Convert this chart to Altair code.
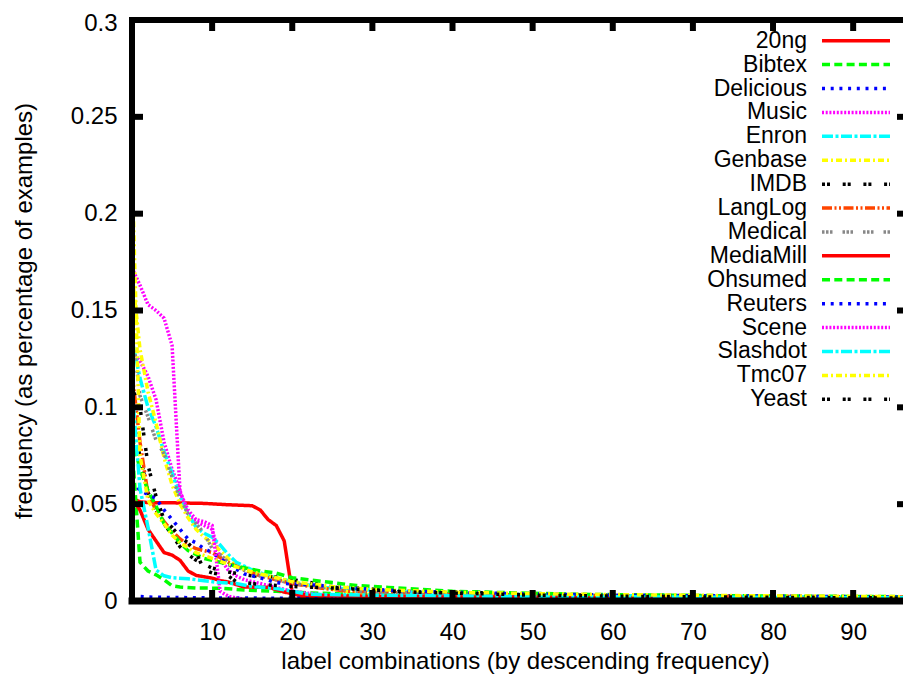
import altair as alt
import pandas as pd

# ---------------- data ----------------
names = ["20ng", "Bibtex", "Delicious", "Music", "Enron", "Genbase", "IMDB", "LangLog",
         "Medical", "MediaMill", "Ohsumed", "Reuters", "Scene", "Slashdot", "Tmc07", "Yeast"]

ng20_x = [0, 1, 2, 5, 9, 12, 15, 16, 17, 18, 19, 20, 21, 25, 35, 50, 70, 98]
ng20_y = [0.053, 0.0512, 0.0508, 0.0507, 0.0504, 0.0497, 0.0492, 0.047, 0.042, 0.039, 0.031,
          0.0042, 0.0025, 0.002, 0.0016, 0.0013, 0.0011, 0.0009]

bibtex_x = [0, 1, 2, 3, 4, 5, 6, 8, 11, 14, 18, 22, 30, 40, 55, 75, 98]
bibtex_y = [0.08, 0.02, 0.0155, 0.0135, 0.011, 0.0078, 0.0072, 0.0067, 0.0066, 0.0057, 0.005,
            0.0042, 0.0032, 0.0026, 0.0021, 0.0017, 0.0014]

delicious_x = [0, 3, 10, 25, 50, 75, 98]
delicious_y = [0.0025, 0.0019, 0.0016, 0.0013, 0.0011, 0.001, 0.0009]

music_x = [0, 1, 2, 3, 4, 5, 6, 7, 8, 9, 10, 11, 12, 13, 14, 16, 18, 20, 22, 24, 26]
music_y = [0.128, 0.124, 0.116, 0.104, 0.082, 0.068, 0.057, 0.044, 0.041, 0.039, 0.037, 0.022,
           0.016, 0.013, 0.011, 0.009, 0.007, 0.005, 0.004, 0.003, 0.002]

enron_x = [0, 1, 2, 3, 4, 5, 6, 7, 8, 9, 10, 11, 12, 13, 14, 15, 17, 19, 21, 24, 28, 35, 45, 60, 80, 98]
enron_y = [0.135, 0.115, 0.1, 0.09, 0.077, 0.066, 0.054, 0.045, 0.038, 0.035, 0.033, 0.029, 0.024,
           0.02, 0.018, 0.016, 0.013, 0.011, 0.009, 0.007, 0.006, 0.0045, 0.0035, 0.0028, 0.0022, 0.0018]

genbase_x = [0, 1, 2, 3, 4, 5, 6, 7, 8, 9, 10, 11, 12, 13, 14, 16, 18, 20, 22, 25, 28, 31]
genbase_y = [0.17, 0.13, 0.108, 0.092, 0.074, 0.06, 0.05, 0.043, 0.037, 0.033, 0.03, 0.026, 0.022,
             0.018, 0.016, 0.014, 0.012, 0.01, 0.008, 0.006, 0.004, 0.003]

imdb_x = [0, 1, 2, 3, 4, 5, 6, 7, 8, 10, 12, 15, 18, 20, 22, 24, 26, 29, 31, 33, 43, 44, 46, 50,
          60, 70, 80, 98]
imdb_y = [0.09, 0.075, 0.056, 0.047, 0.04, 0.034, 0.028, 0.024, 0.021, 0.017, 0.015, 0.013, 0.0124,
          0.011, 0.0098, 0.008, 0.0067, 0.0067, 0.0057, 0.0046, 0.0046, 0.004, 0.0036, 0.0032,
          0.003, 0.0027, 0.0024, 0.002]

langlog_x = [0, 1, 2, 3, 4, 5, 6, 7, 8, 10, 12, 14, 16, 18, 20, 23, 27, 35, 50, 70, 98]
langlog_y = [0.118, 0.082, 0.055, 0.047, 0.041, 0.036, 0.032, 0.029, 0.027, 0.025, 0.02, 0.016,
             0.013, 0.011, 0.009, 0.007, 0.005, 0.004, 0.003, 0.0025, 0.002]

medical_x = [0, 1, 2, 3, 4, 5, 6, 7, 8, 9, 10, 11, 12, 14, 16, 18, 20, 24, 28, 35, 45, 60, 80, 93]
medical_y = [0.14, 0.106, 0.095, 0.083, 0.076, 0.064, 0.053, 0.045, 0.04, 0.035, 0.027, 0.024,
             0.02, 0.016, 0.013, 0.011, 0.009, 0.007, 0.005, 0.004, 0.003, 0.002, 0.0015, 0.001]

mediamill_x = [0, 1, 2, 3, 4, 5, 6, 7, 8, 9, 10, 11, 12, 13, 14, 17, 18, 19, 20, 22, 25, 35, 50, 70, 98]
mediamill_y = [0.053, 0.047, 0.037, 0.031, 0.025, 0.0237, 0.021, 0.0155, 0.0132, 0.0125, 0.0118,
               0.0105, 0.0098, 0.0085, 0.0072, 0.0071, 0.006, 0.0046, 0.0038, 0.003, 0.0027,
               0.0022, 0.0018, 0.0015, 0.0012]

ohsumed_x = [0, 1, 2, 3, 4, 5, 6, 7, 8, 9, 10, 11, 13, 16, 18, 20, 22, 25, 28, 32, 40, 55, 75, 98]
ohsumed_y = [0.085, 0.068, 0.057, 0.049, 0.04, 0.035, 0.03, 0.026, 0.024, 0.022, 0.021, 0.02, 0.018,
             0.0155, 0.0144, 0.012, 0.011, 0.0095, 0.008, 0.007, 0.005, 0.0035, 0.0027, 0.0022]

reuters_x = [0, 1, 2, 3, 4, 5, 6, 7, 8, 9, 10, 12, 14, 16, 18, 20, 23, 26, 30, 35, 45, 60, 80, 98]
reuters_y = [0.062, 0.057, 0.055, 0.053, 0.047, 0.042, 0.037, 0.032, 0.03, 0.027, 0.025, 0.019,
             0.014, 0.012, 0.0095, 0.0088, 0.0082, 0.0072, 0.006, 0.005, 0.004, 0.003, 0.0025, 0.002]

scene_x = [0, 1, 2, 3, 4, 5, 6, 7, 8, 9, 10, 11, 12, 13, 14]
scene_y = [0.172, 0.163, 0.153, 0.15, 0.146, 0.132, 0.056, 0.047, 0.042, 0.041, 0.039, 0.005,
           0.0025, 0.0015, 0.001]

slashdot_x = [0, 1, 2, 3, 4, 5, 7, 9, 11, 13, 15, 18, 20, 22, 30, 45, 70, 98]
slashdot_y = [0.11, 0.058, 0.038, 0.016, 0.013, 0.012, 0.0115, 0.0105, 0.0095, 0.009, 0.0075,
              0.0065, 0.005, 0.0035, 0.003, 0.0025, 0.002, 0.0016]

tmc07_x = [0, 1, 2, 3, 4, 5, 6, 8, 10, 12, 15, 20, 25, 30, 40, 55, 75, 98]
tmc07_y = [0.225, 0.075, 0.052, 0.045, 0.04, 0.034, 0.03, 0.025, 0.022, 0.019, 0.015, 0.01,
           0.0075, 0.006, 0.0045, 0.0035, 0.0028, 0.0022]

yeast_x = [0, 1, 2, 3, 4, 5, 6, 7, 8, 9, 10, 12, 13, 15, 18, 20, 25, 30, 35, 45, 50, 60, 75, 98]
yeast_y = [0.11, 0.1, 0.07, 0.054, 0.042, 0.038, 0.033, 0.03, 0.025, 0.016, 0.0145, 0.013, 0.01,
           0.009, 0.008, 0.0075, 0.0067, 0.0057, 0.0046, 0.0036, 0.003, 0.0025, 0.002, 0.0015]

x_ticks = [10, 20, 30, 40, 50, 60, 70, 80, 90]
y_ticks = [0, 0.05, 0.1, 0.15, 0.2, 0.25, 0.3]

# ---------------- styles ----------------
colors = ["#ff0000", "#00ff00", "#0000ff", "#ff00ff", "#00ffff", "#ffff00", "#000000", "#ff4500",
          "#888888", "#ff0000", "#00ff00", "#0000ff", "#ff00ff", "#00ffff", "#ffff00", "#000000"]
dash_styles = [[1, 0], [8, 4.3], [3, 5.7], [2, 1.7], [11, 2.5, 3, 2.5], [6, 3, 2, 3],
               [3, 2, 3, 12.7], [10, 2.5, 2, 2.5, 2, 2.5], [2.5, 1.5, 2.5, 1.5, 2.5, 10]]
dashes = dash_styles + dash_styles[:7]

series_x = [ng20_x, bibtex_x, delicious_x, music_x, enron_x, genbase_x, imdb_x, langlog_x,
            medical_x, mediamill_x, ohsumed_x, reuters_x, scene_x, slashdot_x, tmc07_x, yeast_x]
series_y = [ng20_y, bibtex_y, delicious_y, music_y, enron_y, genbase_y, imdb_y, langlog_y,
            medical_y, mediamill_y, ohsumed_y, reuters_y, scene_y, slashdot_y, tmc07_y, yeast_y]

rows = []
for i, (n, xs, ys) in enumerate(zip(names, series_x, series_y)):
    for xv, yv in zip(xs, ys):
        rows.append({"series": n, "idx": i, "x": xv, "y": yv})
df = pd.DataFrame(rows)

W, H = 771, 581
XMAX = 96.22
FONT = "Liberation Sans"
FS = 24
LFS = 23

xscale = alt.Scale(domain=[0, XMAX], nice=False, zero=False)
yscale = alt.Scale(domain=[0, 0.3], nice=False)
cscale = alt.Scale(domain=names, range=colors)
dscale = alt.Scale(domain=names, range=dashes)

x_axis = alt.Axis(values=x_ticks, title="label combinations (by descending frequency)",
                  grid=False, domain=False, ticks=False, tickSize=0,
                  labelFont=FONT, labelFontSize=FS, labelColor="black",
                  labelBaseline="middle", labelPadding=31,
                  titleFont=FONT, titleFontSize=FS, titleFontWeight="normal",
                  titleColor="black", titleX=393, titleY=60,
                  titleBaseline="middle", titleAlign="center")
y_axis = alt.Axis(values=y_ticks, format="~g", title="frequency (as percentage of examples)",
                  grid=False, domain=False, ticks=False, tickSize=0,
                  labelFont=FONT, labelFontSize=FS, labelColor="black",
                  labelPadding=15,
                  labelOffset={"condition": {"test": "datum.value >= 0.29", "value": 3}, "value": 0},
                  titleFont=FONT, titleFontSize=FS, titleFontWeight="normal",
                  titleColor="black", titleX=-108, titleY=H / 2,
                  titleAngle=270, titleBaseline="middle", titleAlign="center")

lines = alt.Chart(df).mark_line(strokeWidth=3.5, clip=True).encode(
    x=alt.X("x:Q", scale=xscale, axis=x_axis),
    y=alt.Y("y:Q", scale=yscale, axis=y_axis),
    color=alt.Color("series:N", scale=cscale, legend=None),
    strokeDash=alt.StrokeDash("series:N", scale=dscale, legend=None),
    order=alt.Order("x:Q"),
)

one = pd.DataFrame({"z": [0]})
border_left = alt.Chart(one).mark_rule(color="black", strokeWidth=6, strokeCap="square").encode(
    x=alt.value(0), y=alt.value(0), y2=alt.value(H))
border_top = alt.Chart(one).mark_rule(color="black", strokeWidth=6, strokeCap="square").encode(
    y=alt.value(0), x=alt.value(0), x2=alt.value(W + 6))
border_bottom = alt.Chart(one).mark_rule(color="black", strokeWidth=7, strokeCap="square").encode(
    y=alt.value(H), x=alt.value(0), x2=alt.value(W + 6))

ytdf = pd.DataFrame({"v": y_ticks[1:-1]})
xtdf = pd.DataFrame({"v": x_ticks})
tick_left = alt.Chart(ytdf).mark_rule(color="black", strokeWidth=6).encode(
    y=alt.Y("v:Q", scale=yscale, axis=y_axis), x=alt.value(0), x2=alt.value(11))
tick_right = alt.Chart(ytdf).mark_rule(color="black", strokeWidth=6).encode(
    y=alt.Y("v:Q", scale=yscale, axis=y_axis), x=alt.value(W - 6), x2=alt.value(W))
tick_top = alt.Chart(xtdf).mark_rule(color="black", strokeWidth=6).encode(
    x=alt.X("v:Q", scale=xscale, axis=x_axis), y=alt.value(0), y2=alt.value(11))
tick_bottom = alt.Chart(xtdf).mark_rule(color="black", strokeWidth=6).encode(
    x=alt.X("v:Q", scale=xscale, axis=x_axis), y=alt.value(H - 11), y2=alt.value(H))

main = alt.layer(lines, tick_left, tick_right, tick_top, tick_bottom,
                 border_left, border_top, border_bottom)

# manual key: labels on the left, line samples on the right (gnuplot style)
legdf = pd.DataFrame({"series": names})
lscale = alt.Scale(type="point", domain=names, range=[20.7, 379.3], padding=0)
leg_text = alt.Chart(legdf).mark_text(align="right", baseline="middle", font=FONT,
                                      fontSize=LFS, color="black").encode(
    y=alt.Y("series:N", scale=lscale, axis=None),
    x=alt.value(675),
    text="series:N")
leg_line = alt.Chart(legdf).mark_rule(strokeWidth=3.5).encode(
    y=alt.Y("series:N", scale=lscale, axis=None),
    x=alt.value(690), x2=alt.value(758),
    color=alt.Color("series:N", scale=cscale, legend=None),
    strokeDash=alt.StrokeDash("series:N", scale=dscale, legend=None))
legend = alt.layer(leg_text, leg_line)

chart = alt.layer(main, legend).resolve_scale(y="independent").properties(
    width=W, height=H,
    autosize=alt.AutoSizeParams(type="none"),
    padding={"left": 124, "top": 12, "right": 0, "bottom": 74},
    background="white",
).configure_view(stroke=None)

chart.save("out.html", embed_options={"renderer": "svg", "actions": False})
